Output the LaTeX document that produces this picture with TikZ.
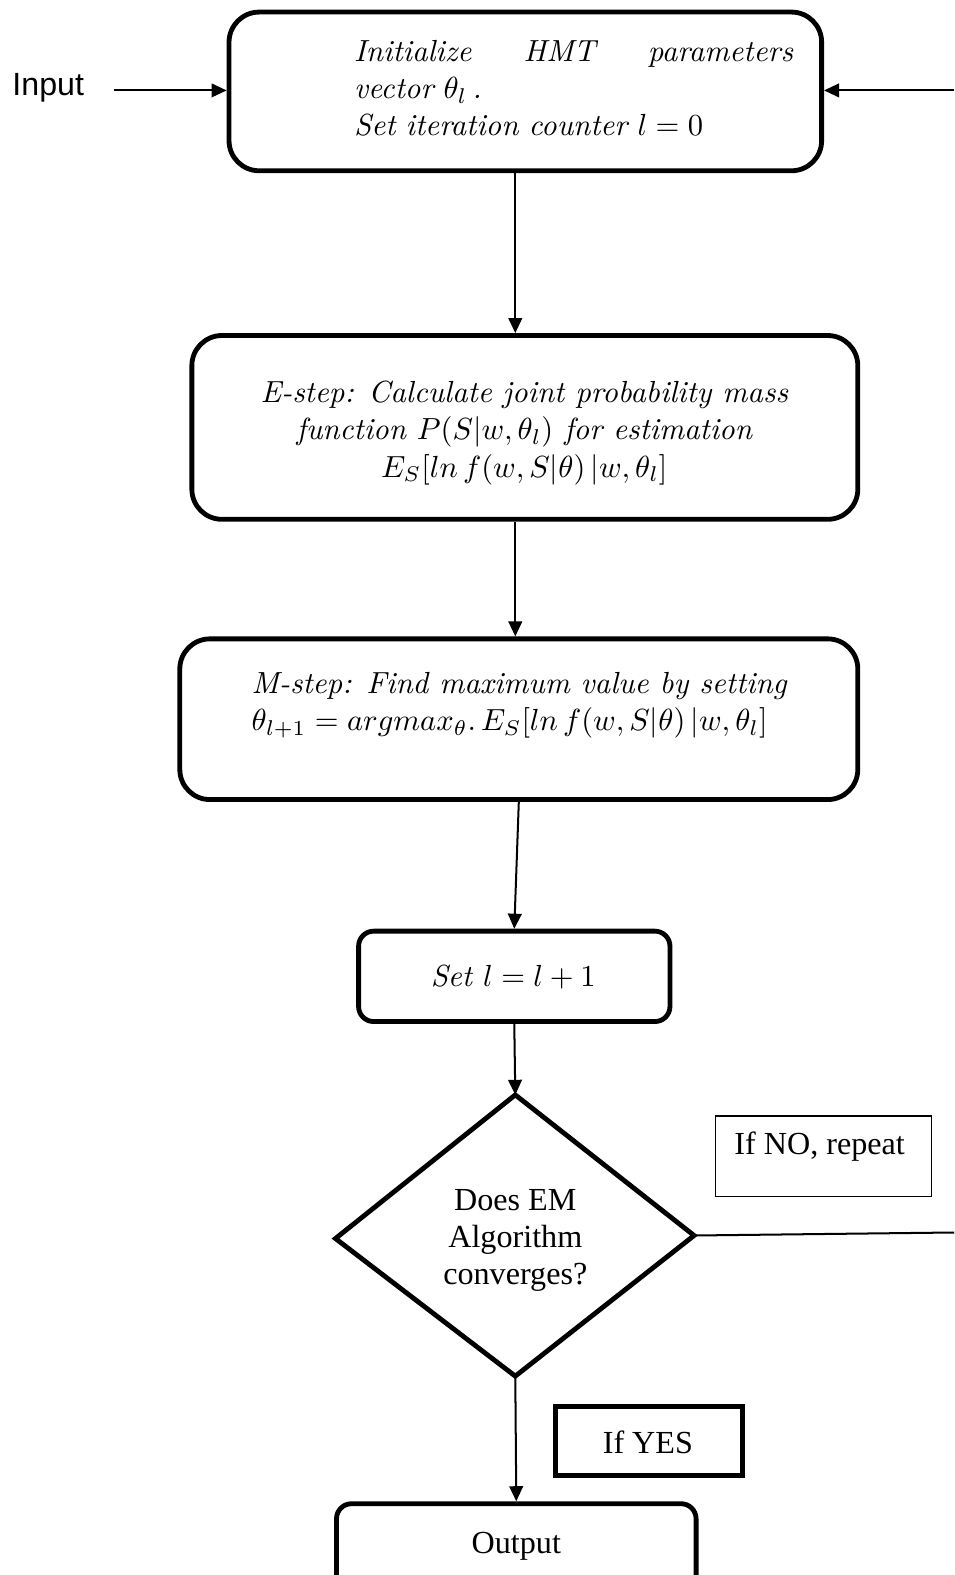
\documentclass[tikz,border=0pt]{standalone}
\usepackage{fontspec}
\newfontfamily\tnr{Liberation Serif}
\newfontfamily\arial{Liberation Sans}
\usetikzlibrary{arrows.meta}

% 1 unit = 0.25pt; y grows downwards
\tikzset{
  stepbox/.style={draw, line width=1.2pt, rounded corners=#1, inner sep=0pt},
  stepbox/.default=7.5pt,
  plainbox/.style={draw, line width=0.4pt, inner sep=0pt},
  yesbox/.style={draw, line width=1.2pt, inner sep=0pt},
  mathtext/.style={font=\fontsize{10}{12.2}\selectfont\itshape, inner sep=0pt, scale=0.76},
  serif/.style={font=\tnr\fontsize{8}{9.25}\selectfont, inner sep=0pt, align=center},
  arr/.style={-{Triangle[length=3.75pt,width=3.4pt]}, line width=0.5pt},
  link/.style={line width=0.5pt},
}

\begin{document}
\begin{tikzpicture}[x=0.25pt, y=-0.25pt]
\useasboundingbox (0,0) rectangle (950,1568);

% boxes
\node[stepbox, minimum width=590*0.25pt, minimum height=158*0.25pt] (init) at (523,91) {};
\node[stepbox, minimum width=663*0.25pt, minimum height=183*0.25pt] (estep) at (522.5,425.5) {};
\node[stepbox, minimum width=675*0.25pt, minimum height=160*0.25pt] (mstep) at (516.5,716) {};
\node[stepbox=3.75pt, minimum width=310*0.25pt, minimum height=90*0.25pt] (inc) at (512,972) {};
\node[stepbox=3.75pt, minimum width=358*0.25pt, minimum height=110*0.25pt] (out) at (514,1552) {};
\node[plainbox, minimum width=215*0.25pt, minimum height=80*0.25pt] (nobox) at (820,1151) {};
\node[yesbox, minimum width=186*0.25pt, minimum height=69*0.25pt] (yesbox) at (646,1434.5) {};

% decision diamond
\coordinate (dtop) at (513,1090);
\coordinate (dleft) at (334,1233);
\coordinate (dright) at (691,1230);
\coordinate (dbot) at (513,1370);
\draw[line width=1.2pt, line join=miter] (dtop) -- (dright) -- (dbot) -- (dleft) -- cycle;

% texts
\node[mathtext, anchor=west, text width=143.7pt, align=left] (initT) at (352,88)
  {\hbox to 143.7pt{Initialize\hfill HMT\hfill parameters}\\
   vector $\theta_l$\,.\\
   Set iteration counter $l=0$};
\node[mathtext, align=center] (estepT) at (522,431)
  {E-step: Calculate joint probability mass\\
   function $P(S|w,\theta_l)$ for estimation\\
   $E_S[ln\,f(w,S|\theta)\,|w,\theta_l]$};
\node[mathtext, anchor=west, align=left] (mstepT) at (250,702)
  {M-step: Find maximum value by setting\\
   $\theta_{l+1}=argmax_\theta.\,E_S[ln\,f(w,S|\theta)\,|w,\theta_l]$};
\node[mathtext] (incT) at (511,973) {Set $l=l+1$};
\node[serif] (decT) at (513,1235) {Does EM\\Algorithm\\converges?};
\node[serif] (noT) at (816,1141) {If NO, repeat};
\node[serif] (yesT) at (645,1436) {If YES};
\node[serif] (outT) at (514,1539) {Output};
\node[font=\arial\fontsize{8}{9.6}\selectfont, inner sep=0pt] (inT) at (48,87) {Input};

% connectors
\coordinate (inStart) at (113,90);
\coordinate (fbTop) at (950,90);
\coordinate (fbMid) at (950,1227);
\draw[arr] (inStart) -- (init.west |- inStart);
\draw[arr] (fbTop) -- (init.east |- fbTop);
\draw[link] (dright) -- (fbMid);
\draw[arr] (init.south -| dtop) -- (estep.north -| dtop);
\draw[arr] (estep.south -| dtop) -- (mstep.north -| dtop);
\draw[arr] (mstep.south) -- (inc.north);
\draw[arr] (inc.south) -- (dtop);
\draw[arr] (dbot) -- (out.north);
\end{tikzpicture}
\end{document}
